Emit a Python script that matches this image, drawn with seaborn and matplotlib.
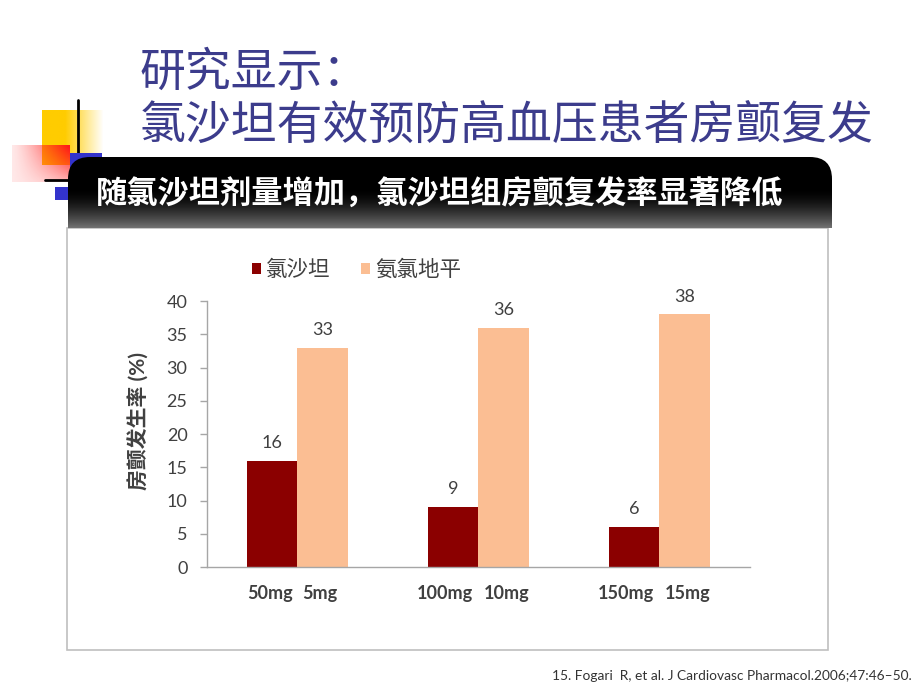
import numpy as np
import pandas as pd
import matplotlib
matplotlib.use("Agg")
import matplotlib.pyplot as plt
import seaborn as sns
from matplotlib.patches import FancyBboxPatch, Rectangle

# ---------------- data ----------------
groups = ["50mg / 5mg", "100mg / 10mg", "150mg / 15mg"]
losartan_dose = ["50mg", "100mg", "150mg"]
amlodipine_dose = ["5mg", "10mg", "15mg"]
series_names = ["氯沙坦", "氨氯地平"]
losartan_rate = [16, 9, 6]
amlodipine_rate = [33, 36, 38]
y_ticks = [0, 5, 10, 15, 20, 25, 30, 35, 40]

title_lines = ["研究显示：", "氯沙坦有效预防高血压患者房颤复发"]
banner_text = "随氯沙坦剂量增加，氯沙坦组房颤复发率显著降低"
y_label = "房颤发生率 (%)"
footer_text = "15. Fogari  R, et al. J Cardiovasc Pharmacol.2006;47:46–50."

df = pd.DataFrame({
    "group": groups * 2,
    "drug": [series_names[0]] * len(groups) + [series_names[1]] * len(groups),
    "rate": losartan_rate + amlodipine_rate,
})

sns.set_theme(style="white")
plt.rcParams['font.family'] = ['Lato', 'Noto Sans CJK SC', 'DejaVu Sans']

fig = plt.figure(figsize=(9.2, 6.9), dpi=100)
fig.patch.set_facecolor("white")

# ---------------- background / decoration layer (pixel coords) ----------------
bg = fig.add_axes([0, 0, 1, 1], zorder=0)
bg.axis("off")

# yellow square with fade to the right
h, w = 60, 60
yel = np.zeros((h, w, 4))
yel[..., 0] = 1.0
yel[..., 1] = 0.8
yel[..., 2] = 0.0
xf = np.linspace(0, 1, w)
yel[..., 3] = np.clip(1.6 - 1.6 * xf, 0, 1)[None, :]
bg.imshow(yel, extent=(42, 104, 165, 110), zorder=1, interpolation="bilinear")

# black vertical line
bg.plot([78, 78], [100, 200], color="black", lw=2, zorder=2)

# blue squares
bg.add_patch(Rectangle((70, 153), 32, 28, facecolor="#3333CC", edgecolor="none", zorder=2))
bg.add_patch(Rectangle((55, 187), 15, 13, facecolor="#3333CC", edgecolor="none", zorder=2))

# red gradient square
h, w = 60, 60
red = np.zeros((h, w, 4))
red[..., 0] = 1.0
red[..., 1] = 0.1
red[..., 2] = 0.1
xg, yg = np.meshgrid(np.linspace(0, 1, w), np.linspace(0, 1, h))
red[..., 3] = np.clip(0.1 + 0.95 * xg ** 1.3 * (1 - 0.75 * yg), 0, 1)
bg.imshow(red, extent=(12, 70, 182, 145), zorder=3, interpolation="bilinear")

# black horizontal line
bg.plot([45, 100], [180, 180], color="black", lw=2, zorder=4)

# chart panel
bg.add_patch(Rectangle((67, 228), 761, 422, facecolor="white", edgecolor="#BFBFBF", lw=1.2, zorder=5))

# banner with gradient and rounded top corners
n = 120
t = np.linspace(0, 1, n)
gray = 0.45 * np.clip((t - 0.45) / 0.55, 0, 1) ** 1.6
grad = np.repeat(gray[:, None], 2, axis=1)
im = bg.imshow(grad, extent=(68, 832, 228, 157), cmap="gray", vmin=0, vmax=1,
               zorder=6, interpolation="bilinear", aspect="auto")
clip = FancyBboxPatch((68, 157), 764, 140, boxstyle="round,pad=0,rounding_size=22",
                      transform=bg.transData, facecolor="none", edgecolor="none")
im.set_clip_path(clip)
bg.text(440, 193, banner_text, color="white", fontsize=22.5, fontweight="bold",
        ha="center", va="center", zorder=7)

# title
bg.text(140, 72, title_lines[0], color="#3C3C8C", fontsize=33, fontweight="light",
        ha="left", va="center", zorder=7)
bg.text(140, 126, title_lines[1], color="#3C3C8C", fontsize=33, fontweight="light",
        ha="left", va="center", zorder=7)

# footer
bg.text(912, 676, footer_text, color="#333333", fontsize=9.9, ha="right", va="center", zorder=7)

bg.set_xlim(0, 920)
bg.set_ylim(690, 0)
bg.set_aspect("auto")

# ---------------- chart ----------------
ax = fig.add_axes([207 / 920, 1 - 567 / 690, 543 / 920, 266 / 690], zorder=2)
ax.patch.set_alpha(0)

sns.barplot(data=df, x="group", y="rate", hue="drug",
            palette=["#8B0000", "#FBBE93"], width=0.56, saturation=1,
            ax=ax, edgecolor="none")

ax.set_xlim(-0.5, len(groups) - 0.5)
ax.set_ylim(0, 40)
ax.set_yticks(y_ticks)

for cont in ax.containers:
    ax.bar_label(cont, padding=7, fontsize=13, color="#404040")

# dose labels: left label ends just left of group centre, right label starts just right of it
gap = 0.028
ticks = [i - gap for i in range(len(groups))] + [i + gap for i in range(len(groups))]
ax.set_xticks(ticks)
ax.set_xticklabels(losartan_dose + amlodipine_dose, fontsize=13, fontweight="bold", color="#404040")
for k, lab in enumerate(ax.get_xticklabels()):
    lab.set_ha("right" if k < len(groups) else "left")
ax.tick_params(axis="x", length=0, pad=13)
ax.tick_params(axis="y", left=True, length=5, width=1, color="#A6A6A6",
               labelsize=13, labelcolor="#404040", pad=9, direction="out")

sns.despine(ax=ax)
for s in ["left", "bottom"]:
    ax.spines[s].set_color("#A6A6A6")
    ax.spines[s].set_linewidth(1)

ax.set_xlabel("")
ax.set_ylabel(y_label, fontsize=15, fontweight="bold", color="#404040")
ax.yaxis.set_label_coords(-0.105, 0.55)

handles, labels = ax.get_legend_handles_labels()
ax.legend(handles, labels, loc="center left", bbox_to_anchor=(252 / 920, 1 - 270 / 690),
          bbox_transform=fig.transFigure, ncol=2, frameon=False, fontsize=15.5,
          handlelength=0.42, handleheight=0.42, handletextpad=0.25, columnspacing=1.4,
          borderpad=0, borderaxespad=0, labelcolor="#404040")

fig.savefig("out.png", dpi=100)
